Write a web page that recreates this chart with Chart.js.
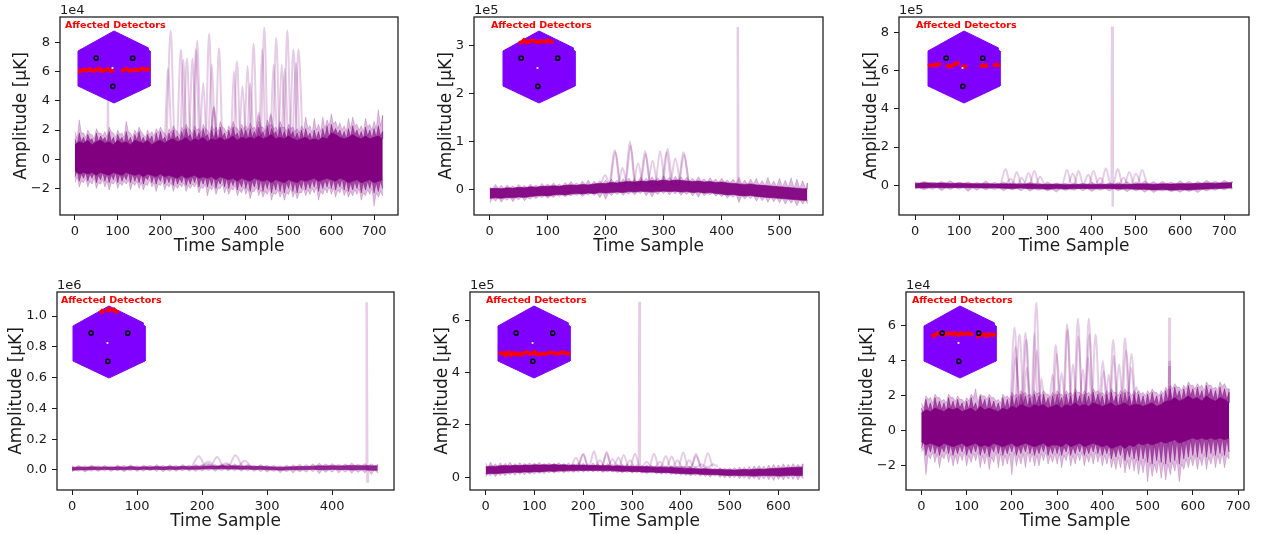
<!DOCTYPE html>
<html><head><meta charset="utf-8">
<style>html,body{margin:0;padding:0;background:#fff;width:1263px;height:534px;overflow:hidden}canvas{position:absolute;display:block}</style>
<script src="https://cdn.jsdelivr.net/npm/chart.js@4"></script></head><body>
<script>
// ---- Panel 1 (1e4) : envelopes read every 10 samples
const p1OutUp=[1.9,2.7,1.8,2.0,1.7,2.1,1.8,1.9,2.2,1.8,2.0,1.8,2.6,1.8,2.0,2.2,1.7,2.0,1.9,2.1,2.2,1.8,2.1,2.3,1.9,2.2,2.4,2.0,2.3,2.1,2.4,2.0,2.3,2.2,2.6,2.1,2.3,2.6,2.1,2.4,2.3,2.5,2.2,2.6,2.2,2.7,2.4,2.2,2.6,2.2,2.4,2.2,2.1,2.3,2.9,2.3,2.8,2.4,2.9,2.7,3.1,2.6,2.5,2.3,2.8,2.9,2.4,2.3,2.8,2.4,2.6,3.4,3.0];
const p1MidUp=[1.4,1.8,1.5,1.7,1.4,1.8,1.6,1.5,1.9,1.5,1.7,1.5,1.9,1.5,1.7,1.9,1.5,1.7,1.6,1.8,1.9,1.5,1.8,2.0,1.6,1.9,2.1,1.7,2.0,1.8,2.1,1.7,2.0,1.9,2.2,1.8,2.0,2.2,1.8,2.1,2.0,2.1,1.9,2.2,1.9,2.3,2.1,1.9,2.2,1.9,2.1,1.9,1.8,2.0,2.1,1.8,2.0,1.9,2.1,2.3,2.4,2.1,2.0,1.9,2.1,2.3,2.0,1.9,2.2,2.0,2.1,2.3,1.9];
const p1CoreUp=[1.0,1.2,1.1,1.3,1.0,1.2,1.3,1.1,1.2,1.0,1.3,1.1,1.2,1.0,1.3,1.2,1.1,1.3,1.0,1.2,1.3,1.1,1.3,1.4,1.2,1.3,1.5,1.2,1.4,1.3,1.5,1.2,1.4,1.3,1.5,1.3,1.4,1.6,1.3,1.5,1.4,1.5,1.4,1.6,1.4,1.5,1.7,1.4,1.5,1.4,1.6,1.4,1.3,1.4,1.5,1.3,1.4,1.3,1.5,1.4,1.8,1.7,1.5,1.4,1.5,1.7,1.5,1.4,1.6,1.4,1.5,1.6,1.4];
const p1CoreLo=[-0.8,-1.0,-0.9,-1.0,-0.9,-1.1,-0.9,-1.0,-1.1,-0.9,-1.0,-1.1,-0.9,-1.0,-1.1,-1.0,-1.2,-1.0,-1.1,-1.2,-1.0,-1.2,-1.1,-1.2,-1.3,-1.1,-1.3,-1.2,-1.1,-1.3,-1.2,-1.3,-1.2,-1.4,-1.2,-1.3,-1.4,-1.3,-1.5,-1.3,-1.4,-1.5,-1.3,-1.4,-1.5,-1.4,-1.6,-1.4,-1.5,-1.6,-1.4,-1.5,-1.6,-1.4,-1.5,-1.4,-1.3,-1.5,-1.4,-1.3,-1.4,-1.5,-1.3,-1.4,-1.6,-1.5,-1.4,-1.6,-1.5,-1.4,-1.6,-1.5,-1.4];
const p1MidLo=[-1.2,-1.5,-1.3,-1.5,-1.3,-1.6,-1.4,-1.5,-1.6,-1.4,-1.6,-1.5,-1.4,-1.6,-1.5,-1.6,-1.7,-1.4,-1.6,-1.7,-1.5,-1.7,-1.6,-1.8,-1.7,-1.6,-1.8,-1.7,-1.6,-1.9,-1.7,-1.9,-1.8,-2.0,-1.7,-1.9,-2.0,-1.8,-2.1,-1.9,-2.0,-2.2,-1.9,-2.1,-2.2,-2.0,-2.3,-2.1,-2.2,-2.3,-2.0,-2.2,-2.3,-2.0,-2.1,-2.0,-1.9,-2.2,-2.0,-1.9,-2.0,-2.1,-1.9,-2.1,-2.2,-2.1,-2.0,-2.3,-2.1,-2.0,-2.3,-2.2,-2.0];
const p1OutLo=[-1.6,-1.9,-1.6,-1.9,-1.7,-2.0,-1.7,-1.9,-2.1,-1.7,-2.0,-1.8,-1.7,-2.1,-1.8,-2.0,-2.1,-1.8,-1.9,-2.2,-1.8,-2.1,-1.9,-2.2,-2.0,-1.9,-2.2,-2.0,-1.9,-2.3,-2.0,-2.5,-2.1,-2.4,-2.0,-2.3,-2.4,-2.1,-2.5,-2.3,-2.4,-2.7,-2.2,-2.5,-2.6,-2.4,-2.8,-2.4,-2.6,-2.8,-2.4,-2.6,-2.7,-2.3,-2.5,-2.4,-2.3,-2.8,-2.4,-2.3,-2.4,-2.6,-2.3,-2.5,-2.6,-2.5,-2.4,-2.8,-2.5,-2.4,-3.2,-2.6,-2.5];
const p1TraceA=[[214,1],[224,8.8],[234,1],[253,1],[262,6.9],[271,1],[277,1],[286,8.1],[295,1],[305,1],[314,8.6],[323,1],[328,1],[337,7.6],[346,1],[383,1],[392,5.0],[401,1],[409,1],[418,7.9],[427,1],[434,1],[443,9.0],[452,1],[462,1],[471,8.3],[480,1],[488,1],[497,8.8],[506,1],[514,1],[523,7.5],[533,1]];
const p1TraceB=[[239,1],[248,7.5],[257,1],[266,1],[275,6.9],[284,1],[291,1],[300,5.2],[309,1],[316,1],[325,3.5],[334,1],[370,1],[379,6.7],[388,1],[395,1],[404,6.4],[413,1],[421,1],[430,3.0],[439,1],[449,1],[458,3.0],[467,1],[475,1],[484,6.5],[493,1],[502,1],[511,7.5],[520,1]];
const p1TraceC=[[210,1],[218,6.2],[227,1],[245,1],[254,6.8],[262,1],[274,1],[283,7.5],[292,1],[311,1],[320,6.5],[329,1],[364,1],[372,6],[381,1],[402,1],[410,5.2],[419,1],[430,1],[438,7.5],[447,1],[456,1],[465,6.5],[474,1],[482,1],[491,6.2],[500,1],[508,1],[517,6.6],[526,1]];
const p1TraceD=[[316,1],[325,3.6],[334,1],[422,1],[430,3.2],[439,1],[450,1],[458,3.1],[467,1]];
const p1Spikes=[[[76,1],[77,4.4],[78,1]]];
const p1XTicks=[0,100,200,300,400,500,600,700];
const p1YTicks=[-2,0,2,4,6,8];

// ---- Panel 2 (1e5)
const p2OutUp=[0.06,0.11,0.09,0.10,0.08,0.11,0.09,0.12,0.10,0.13,0.12,0.14,0.12,0.15,0.17,0.14,0.18,0.20,0.18,0.19,0.20,0.22,0.20,0.23,0.24,0.22,0.26,0.24,0.27,0.25,0.29,0.26,0.28,0.27,0.26,0.24,0.27,0.23,0.25,0.22,0.24,0.20,0.22,0.26,0.20,0.22,0.24,0.19,0.26,0.18,0.24,0.20,0.25,0.22,0.19,0.14];
const p2CoreUp=[0.02,0.03,0.02,0.04,0.03,0.05,0.04,0.06,0.05,0.07,0.07,0.08,0.07,0.09,0.10,0.09,0.11,0.10,0.12,0.13,0.13,0.15,0.14,0.16,0.17,0.16,0.18,0.17,0.19,0.18,0.20,0.18,0.20,0.19,0.18,0.17,0.18,0.16,0.17,0.15,0.16,0.14,0.13,0.12,0.11,0.12,0.10,0.09,0.08,0.07,0.06,0.05,0.04,0.03,0.02,0.02];
const p2CoreLo=[-0.18,-0.17,-0.18,-0.16,-0.17,-0.15,-0.16,-0.14,-0.13,-0.12,-0.13,-0.11,-0.10,-0.11,-0.09,-0.08,-0.09,-0.07,-0.08,-0.06,-0.07,-0.06,-0.05,-0.06,-0.04,-0.05,-0.03,-0.04,-0.05,-0.04,-0.03,-0.04,-0.03,-0.05,-0.04,-0.06,-0.05,-0.07,-0.06,-0.08,-0.09,-0.11,-0.10,-0.12,-0.13,-0.12,-0.14,-0.15,-0.16,-0.17,-0.18,-0.19,-0.20,-0.21,-0.22,-0.22];
const p2OutLo=[-0.28,-0.24,-0.26,-0.22,-0.25,-0.21,-0.23,-0.20,-0.19,-0.17,-0.18,-0.16,-0.14,-0.15,-0.13,-0.12,-0.14,-0.11,-0.12,-0.17,-0.20,-0.12,-0.10,-0.12,-0.09,-0.11,-0.08,-0.13,-0.15,-0.10,-0.08,-0.11,-0.09,-0.12,-0.10,-0.13,-0.16,-0.13,-0.11,-0.14,-0.15,-0.18,-0.16,-0.27,-0.20,-0.19,-0.24,-0.23,-0.26,-0.25,-0.27,-0.30,-0.28,-0.34,-0.30,-0.29];
const p2TraceA=[[207,0.1],[216,0.82],[225,0.1],[233,0.1],[242,1.0],[251,0.1],[259,0.1],[268,0.8],[277,0.1],[285,0.1],[294,0.8],[303,0.1],[311,0.1],[320,0.65],[329,0.1]];
const p2TraceB=[[191,0.1],[199,0.3],[208,0.1],[221,0.1],[229,0.45],[238,0.1],[247,0.1],[256,0.55],[265,0.1],[272,0.1],[281,0.6],[290,0.1],[298,0.1],[307,0.85],[316,0.1],[325,0.1],[334,0.78],[344,0.1]];
const p2TraceC=[[208,0.1],[217,0.78],[226,0.1],[234,0.1],[243,0.92],[252,0.1],[260,0.1],[269,0.74],[278,0.1],[296,0.1],[305,0.78],[314,0.1],[326,0.1],[335,0.72],[344,0.1]];
const p2TraceD=[];
const p2Spikes=[[[427,0.1],[428,3.38],[429,0.1]]];
const p2XTicks=[0,100,200,300,400,500];
const p2YTicks=[0,1,2,3];

// ---- Panel 3 (1e5)
const p3OutUp=[.18,.22,.17,.2,.24,.17,.19,.15,.23,.16,.18,.14,.13,.17,.12,.18,.13,.11,.14,.12,.16,.14,.13,.15,.19,.18,.24,.20,.22,.18,.24,.22,.20,.26,.22,.27,.20];
const p3CoreUp=[.10,.13,.11,.12,.10,.11,.09,.08,.09,.07,.08,.07,.06,.08,.05,.04,.05,.03,.04,.05,.05,.04,.05,.06,.04,.07,.08,.06,.08,.07,.09,.08,.10,.12,.11,.13,.13];
const p3CoreLo=[-.12,-.14,-.11,-.13,-.12,-.11,-.13,-.12,-.14,-.13,-.15,-.16,-.14,-.18,-.17,-.20,-.17,-.19,-.17,-.16,-.18,-.17,-.16,-.19,-.18,-.20,-.21,-.24,-.22,-.25,-.23,-.24,-.21,-.19,-.17,-.15,-.12];
const p3OutLo=[-.2,-.24,-.21,-.28,-.22,-.2,-.32,-.25,-.24,-.22,-.28,-.25,-.28,-.3,-.26,-.3,-.35,-.27,-.26,-.28,-.32,-.26,-.3,-.28,-.33,-.3,-.36,-.38,-.3,-.34,-.36,-.32,-.38,-.3,-.26,-.24,-.2];
const p3TraceA=[[194,0.05],[205,0.85],[216,0.05],[220,0.05],[230,0.7],[241,0.05],[246,0.05],[257,0.65],[268,0.05],[273,0.05],[283,0.45],[294,0.05],[333,0.05],[344,0.8],[355,0.05],[360,0.05],[370,0.75],[381,0.05],[393,0.05],[404,0.75],[415,0.05],[421,0.05],[432,0.9],[443,0.05],[448,0.05],[459,0.85],[470,0.05],[474,0.05],[485,0.7],[496,0.05],[503,0.05],[514,0.8],[525,0.05]];
const p3TraceB=[[206,0.05],[216,0.35],[227,0.05],[233,0.05],[241,0.4],[252,0.05],[259,0.05],[270,0.75],[281,0.05],[346,0.05],[357,0.6],[368,0.05],[381,0.05],[392,0.55],[403,0.05],[408,0.05],[419,0.4],[430,0.05],[461,0.05],[472,0.4],[483,0.05],[489,0.05],[500,0.6],[511,0.05]];
const p3TraceC=[];
const p3TraceD=[];
const p3Spikes=[[[445,0.05],[446,8.3],[447,-1.12],[448,0.05]]];
const p3XTicks=[0,100,200,300,400,500,600,700];
const p3YTicks=[0,2,4,6,8];

// ---- Panel 4 (1e6)
const p4OutUp=[.028,.03,.027,.033,.028,.031,.026,.033,.03,.034,.028,.032,.03,.035,.03,.034,.031,.036,.032,.037,.035,.04,.036,.04,.037,.04,.034,.037,.03,.035,.03,.031,.028,.032,.034,.038,.036,.04,.045,.04,.042,.038,.04,.045,.038,.042,.04,.036];
const p4CoreUp=[.016,.02,.017,.021,.018,.02,.017,.021,.018,.022,.018,.021,.019,.022,.019,.023,.02,.024,.021,.025,.023,.026,.024,.028,.025,.027,.024,.026,.022,.024,.021,.02,.018,.02,.021,.023,.022,.025,.027,.026,.028,.026,.027,.029,.027,.028,.027,.026];
const p4CoreLo=[-.002,.002,0,.003,.001,.004,.002,.003,.001,.004,.002,.005,.003,.004,.002,.005,.003,.006,.004,.005,.006,.008,.006,.008,.006,.007,.005,.006,.003,.004,.001,.002,-.001,.001,.002,.001,.003,.004,.002,.001,.004,.002,.003,0,.002,.001,-.002,-.002];
const p4OutLo=[-.012,-.008,-.014,-.008,-.01,-.007,-.01,-.006,-.012,-.007,-.01,-.008,-.006,-.01,-.012,-.008,-.01,-.006,-.008,-.01,-.006,-.004,-.01,-.004,-.006,-.005,-.008,-.006,-.01,-.012,-.015,-.01,-.018,-.012,-.02,-.013,-.015,-.012,-.025,-.016,-.014,-.02,-.015,-.022,-.016,-.02,-.03,-.02];
const p4TraceA=[[184,0.02],[195,0.09],[206,0.02],[212,0.02],[223,0.085],[234,0.02],[240,0.02],[251,0.095],[262,0.02]];
const p4TraceB=[[199,0.02],[210,0.055],[221,0.02],[226,0.02],[237,0.045],[248,0.02],[254,0.02],[265,0.06],[276,0.02]];
const p4TraceC=[[200,0.02],[209,0.04],[220,0.02],[228,0.02],[238,0.035],[248,0.02]];
const p4TraceD=[];
const p4Spikes=[[[452,0.02],[453,1.09],[454,-0.075],[455,0.02]]];
const p4XTicks=[0,100,200,300,400];
const p4YTicks=[0,0.2,0.4,0.6,0.8,1.0];

// ---- Panel 5 (1e5)
const p5OutUp=[.55,.58,.52,.56,.54,.58,.53,.57,.54,.56,.55,.58,.53,.56,.54,.57,.53,.55,.52,.55,.54,.52,.55,.52,.50,.53,.50,.51,.49,.50,.48,.49,.46,.48,.46,.44,.46,.43,.45,.42,.43,.40,.42,.39,.38,.40,.37,.36,.38,.35,.36,.38,.40,.39,.42,.44,.45,.43,.47,.50,.48,.52,.50,.53,.50,.52];
const p5CoreUp=[.40,.43,.42,.44,.45,.44,.46,.45,.47,.46,.48,.47,.48,.47,.49,.47,.48,.46,.47,.46,.47,.45,.46,.45,.44,.45,.43,.44,.43,.42,.42,.41,.40,.41,.39,.38,.39,.37,.38,.36,.36,.34,.35,.33,.32,.33,.31,.30,.31,.29,.29,.28,.29,.30,.29,.31,.32,.31,.33,.34,.35,.36,.37,.38,.39,.39];
const p5CoreLo=[.13,.15,.14,.16,.17,.18,.20,.19,.21,.20,.22,.21,.23,.24,.23,.25,.24,.26,.25,.27,.26,.27,.26,.27,.25,.26,.25,.24,.23,.24,.22,.23,.21,.20,.21,.19,.18,.19,.17,.16,.15,.14,.13,.14,.12,.11,.10,.11,.09,.08,.07,.08,.06,.07,.06,.05,.06,.07,.06,.07,.05,.06,.07,.08,.06,.08];
const p5OutLo=[.02,.06,.03,.07,.06,.10,.08,.11,.10,.12,.13,.15,.14,.17,.16,.19,.17,.20,.19,.20,.20,.22,.21,.22,.19,.21,.20,.18,.17,.19,.16,.18,.15,.14,.16,.13,.12,.13,.11,.10,.08,.07,.05,.07,.04,.03,.01,.04,.00,-.02,-.03,-.01,-.05,-.03,-.08,-.05,-.10,-.06,-.09,-.12,-.08,-.10,-.06,-.08,-.10,-.05];
const p5TraceA=[[175,0.4],[185,0.75],[196,0.4],[212,0.4],[222,1.0],[232,0.4],[238,0.4],[248,0.98],[258,0.4],[262,0.4],[272,0.75],[282,0.4],[296,0.4],[306,0.9],[316,0.4],[335,0.4],[345,0.9],[355,0.4],[359,0.4],[369,0.82],[379,0.4],[395,0.4],[405,0.95],[415,0.4],[421,0.4],[431,0.9],[441,0.4],[445,0.4],[455,0.92],[465,0.4]];
const p5TraceB=[[190,0.4],[200,0.9],[210,0.4],[224,0.4],[234,0.65],[244,0.4],[250,0.4],[260,0.7],[270,0.4],[273,0.4],[283,0.85],[293,0.4],[320,0.4],[330,0.6],[340,0.4],[347,0.4],[357,0.6],[367,0.4],[371,0.4],[381,0.8],[391,0.4],[407,0.4],[417,0.65],[427,0.4],[432,0.4],[442,0.5],[452,0.4],[456,0.4],[466,0.5],[476,0.4]];
const p5TraceC=[[190,0.4],[200,0.86],[210,0.4],[238,0.4],[248,0.9],[258,0.4],[286,0.4],[296,0.65],[306,0.4],[383,0.4],[393,0.65],[403,0.4],[421,0.4],[431,0.82],[441,0.4]];
const p5TraceD=[];
const p5Spikes=[[[314,0.4],[315,6.7],[316,0.4]]];
const p5XTicks=[0,100,200,300,400,500,600];
const p5YTicks=[0,2,4,6];

// ---- Panel 6 (1e4)
const p6OutUp=[1.6,2.0,1.9,2.1,1.9,1.8,2.1,1.9,2.0,1.8,1.9,2.1,2.4,2.1,2.0,2.1,1.9,1.8,2.1,2.0,2.2,2.1,2.3,2.2,2.1,2.3,2.2,2.3,2.1,2.2,2.3,2.1,2.3,2.2,2.4,2.2,2.3,2.2,2.4,2.3,2.2,2.3,2.4,2.2,2.3,2.4,2.2,2.3,2.3,2.2,2.3,2.4,2.2,2.3,2.5,2.6,2.7,2.5,2.6,2.8,2.6,2.7,2.6,2.8,2.6,2.5,2.8,2.7,2.4];
const p6MidUp=[1.3,1.8,1.6,1.9,1.7,1.6,1.9,1.7,1.8,1.6,1.7,1.9,1.6,2.0,1.8,1.9,1.7,1.6,1.9,1.8,2.0,1.9,2.1,2.0,1.9,2.1,2.0,2.1,1.9,2.0,2.1,1.9,2.1,2.0,2.2,2.0,2.1,2.0,2.2,2.1,2.0,2.1,2.2,2.0,2.1,2.2,2.0,2.1,2.1,2.0,2.1,2.2,2.0,2.1,2.3,2.4,2.5,2.3,2.4,2.6,2.4,2.5,2.3,2.6,2.4,2.3,2.5,2.4,2.2];
const p6CoreUp=[1.0,1.2,1.1,1.3,1.2,1.1,1.3,1.2,1.3,1.1,1.2,1.3,1.1,1.4,1.2,1.3,1.2,1.1,1.3,1.2,1.4,1.3,1.5,1.4,1.3,1.5,1.4,1.5,1.3,1.4,1.5,1.3,1.5,1.4,1.6,1.4,1.5,1.4,1.6,1.5,1.4,1.5,1.6,1.4,1.5,1.6,1.4,1.5,1.5,1.4,1.5,1.6,1.4,1.5,1.7,1.7,1.9,1.7,1.8,2.0,1.8,1.9,1.7,2.0,1.8,1.7,1.9,1.8,1.6];
const p6CoreLo=[-0.6,-0.8,-0.7,-0.8,-0.9,-0.7,-0.8,-0.9,-0.8,-0.7,-0.9,-0.8,-0.7,-0.9,-0.8,-0.9,-0.7,-0.8,-0.9,-0.8,-0.7,-0.9,-0.8,-0.7,-0.8,-0.9,-0.8,-0.7,-0.9,-0.8,-0.8,-0.9,-0.7,-0.9,-0.8,-0.7,-0.9,-0.8,-0.7,-0.8,-0.9,-0.8,-1.0,-0.9,-0.8,-1.0,-0.8,-0.9,-0.7,-0.8,-0.7,-0.8,-0.7,-0.6,-0.7,-0.6,-0.5,-0.7,-0.6,-0.5,-0.4,-0.5,-0.4,-0.5,-0.4,-0.5,-0.4,-0.5,-0.4];
const p6MidLo=[-1.0,-1.4,-1.2,-1.3,-1.4,-1.2,-1.3,-1.4,-1.3,-1.2,-1.4,-1.3,-1.2,-1.4,-1.3,-1.5,-1.2,-1.3,-1.4,-1.3,-1.2,-1.4,-1.3,-1.2,-1.3,-1.4,-1.3,-1.2,-1.4,-1.3,-1.3,-1.4,-1.2,-1.4,-1.3,-1.2,-1.4,-1.3,-1.2,-1.3,-1.4,-1.3,-1.6,-1.5,-1.4,-1.7,-1.5,-1.6,-1.7,-1.6,-1.8,-1.9,-1.7,-1.8,-1.9,-1.8,-1.7,-1.9,-1.6,-1.5,-1.4,-1.5,-1.3,-1.5,-1.3,-1.4,-1.3,-1.4,-1.2];
const p6OutLo=[-1.2,-2.5,-1.6,-1.8,-2.1,-1.6,-1.8,-2.0,-1.9,-1.7,-2.0,-1.8,-1.7,-2.1,-1.9,-2.2,-1.8,-2.1,-2.0,-1.9,-2.5,-2.0,-1.9,-2.1,-1.8,-2.0,-2.0,-1.7,-1.9,-1.8,-1.9,-2.1,-1.7,-2.0,-1.9,-1.7,-2.0,-1.8,-1.9,-1.8,-2.0,-1.9,-2.1,-2.2,-2.1,-2.4,-2.2,-2.3,-2.5,-2.4,-2.9,-2.6,-2.4,-2.7,-2.8,-2.5,-2.3,-2.9,-2.2,-2.1,-2.0,-2.2,-2.0,-2.2,-1.9,-2.1,-1.9,-2.1,-1.6];
const p6TraceA=[[196,1],[206,5.9],[216,1],[220,1],[230,5.6],[240,1],[244,1],[254,7.3],[264,1],[287,1],[297,4.9],[307,1],[312,1],[322,6.1],[332,1],[336,1],[346,6.4],[356,1],[360,1],[370,6.4],[380,1],[391,1],[401,4],[411,1],[414,1],[424,5.2],[434,1],[440,1],[450,5.3],[460,1],[465,1],[475,2.5],[485,1]];
const p6TraceB=[[207,1],[217,5.5],[227,1],[242,1],[250,5.6],[258,1],[260,1],[265,3],[275,1],[300,1],[310,3.3],[320,1],[325,1],[335,3.8],[345,1],[347,1],[357,3.5],[367,1],[375,1],[385,5.5],[395,1],[427,1],[437,3.8],[447,1],[454,1],[464,4.4],[474,1]];
const p6TraceC=[[198,1],[208,4.8],[218,1],[222,1],[232,5.2],[242,1],[245,1],[255,4.6],[265,1],[290,1],[299,4.4],[309,1],[314,1],[323,5.8],[333,1],[338,1],[347,5.4],[357,1],[362,1],[371,5.5],[381,1],[393,1],[403,3.4],[413,1],[416,1],[425,4.3],[435,1],[442,1],[452,4.6],[462,1]];
const p6TraceD=[[200,1],[209,4.2],[219,1],[224,1],[233,3.6],[243,1],[280,1],[290,3.2],[300,1],[360,1],[368,4.2],[378,1],[405,1],[414,3.2],[424,1],[455,1],[463,3.6],[473,1]];
const p6Spikes=[[[547,1.5],[548,6.45],[549,1.5]],[[547,1.5],[548,4.0],[549,1.5]],[[547,1.5],[548,3.7],[549,1.5]]];
const p6XTicks=[0,100,200,300,400,500,600,700];
const p6YTicks=[-2,0,2,4,6];

// ---- Inset: focal-plane hexagon, heated detectors, three marker rings
const hexOutline=[[36,0],[70,16.7],[70,19],[72,20],[72,55],[36,72],[0,55],[0,20],[36,0]];
const ringDetectors=[[18.2,27],[54.7,27.2],[34.8,55.3]];
const centreHole=[[34.5,37]];
const p1Hit=[[0,40],[3,40],[6,38.5],[9,39.5],[12,38],[15,40],[18,39],[21,37.5],[24,40],[27,39],[30,38],[33,40],[36,39.5],null,[43,40],[46,39],[49,38],[52,40],[55,39],[58,38.5],[61,39.5],[64,37.5],[67,38.5],[70,38],[72,39]];
const p2Hit=[[16,12],[19,11],[21,9],[24,11.5],[27,10],[30,9.5],[33,11],[36,11],[39,10],[42,11],[45,9.5],[48,10.5],[50,12]];
const p3Hit=[[0,35],[4,34],[7,34.5],[10,33],[13,34],null,[18,34],[21,35.5],[24,35],[27,33],[29,32],[31,33.5],null,[34,34],[36,36],[39,35],null,[52,36],[55,34],[58,35],[60,34],null,[65,35],[68,33.5],[72,34.5]];
const p4Hit=[[27,7],[29,5],[31,7],null,[33,5],[36,3],[37,6],null,[39,5],[41,3.5],[43,5.5],[46,6]];
const p5Hit=[[1,46],[4,48],[7,47],[8,49],[11,46.5],[13,49],[15,47],[18,48.5],[20,47],[23,49],[26,47],[29,46],[32,48],[35,47],[37,46],[39,48.5],[42,48],[44,47.5],[47,48],[50,47],[53,46.5],[56,47],[59,48],[62,47],[65,46],[68,47.5],[72,47.5]];
const p6Hit=[[8,28],[10,30],[12,28],[15,27],[18,28],[20,29],[23,27.5],[26,27],[29,28.5],[31,27],[34,29],[37,27],[40,28.5],[43,27],[46,28],[49,28],null,[54,28],[54,30],[57,29],[60,28],[63,30],[66,28],[69,29],[72,28]];

// ---- Text
const xLabel='Time Sample', yLabel='Amplitude [μK]', insetLabel='Affected Detectors';

// ---- Panel table: axes and layout, plus references to the arrays above
const panels=[
 {box:[60,17,398,215],yOff:39,x:[-35.1,756],y:[-3.81,9.73],xt:p1XTicks,yt:p1YTicks,dp:0,exp:'1e4',step:10,end:720,band:[p1OutUp,p1OutLo,p1MidUp,p1MidLo,p1CoreUp,p1CoreLo],traces:[p1TraceA,p1TraceB,p1TraceC,p1TraceD],spikes:p1Spikes,hit:p1Hit,hex:[78,31],tx:65},
 {box:[474,17,823,215],yOff:28,x:[-27.1,575],y:[-0.526,3.59],xt:p2XTicks,yt:p2YTicks,dp:0,exp:'1e5',step:10,end:548,band:[p2OutUp,p2OutLo,null,null,p2CoreUp,p2CoreLo],traces:[p2TraceA,p2TraceB,p2TraceC,p2TraceD],spikes:p2Spikes,hit:p2Hit,hex:[503,31],tx:491},
 {box:[899,17,1249,215],yOff:28,x:[-36.3,756],y:[-1.55,8.8],xt:p3XTicks,yt:p3YTicks,dp:0,exp:'1e5',step:20,end:718,band:[p3OutUp,p3OutLo,null,null,p3CoreUp,p3CoreLo],traces:[p3TraceA,p3TraceB,p3TraceC,p3TraceD],spikes:p3Spikes,hit:p3Hit,hex:[928,31],tx:916},
 {box:[57,292,394,490],yOff:41,x:[-23.1,495],y:[-0.13,1.156],xt:p4XTicks,yt:p4YTicks,dp:1,exp:'1e6',step:10,end:470,band:[p4OutUp,p4OutLo,null,null,p4CoreUp,p4CoreLo],traces:[p4TraceA,p4TraceB,p4TraceC,p4TraceD],spikes:p4Spikes,hit:p4Hit,hex:[73,306],tx:61,soft:true},
 {box:[470,292,819,490],yOff:28,x:[-32,683],y:[-0.48,7.07],xt:p5XTicks,yt:p5YTicks,dp:0,exp:'1e5',step:10,end:650,band:[p5OutUp,p5OutLo,null,null,p5CoreUp,p5CoreLo],traces:[p5TraceA,p5TraceB,p5TraceC,p5TraceD],spikes:p5Spikes,hit:p5Hit,hex:[498,306],tx:486},
 {box:[906,292,1244,490],yOff:39,x:[-34,713],y:[-3.37,7.92],xt:p6XTicks,yt:p6YTicks,dp:0,exp:'1e4',step:10,end:680,band:[p6OutUp,p6OutLo,p6MidUp,p6MidLo,p6CoreUp,p6CoreLo],traces:[p6TraceA,p6TraceB,p6TraceC,p6TraceD],spikes:p6Spikes,hit:p6Hit,hex:[924,306],tx:912}
];

const PURPLE='128,0,128', FONT='"DejaVu Sans"', INK='#1a1a1a';
const pts=a=>a.map(p=>p?{x:p[0],y:p[1]}:{x:NaN,y:null});
const series=(v,st,end)=>v.map((y,i)=>({x:Math.min(i*st,end),y}));
// noise edge: every read envelope value is a tooth that falls back to the next inner envelope
const teeth=(top,base,st,end)=>top.flatMap((y,i)=>[{x:Math.min(i*st,end),y},{x:Math.min(i*st+st/2,end),y:base[i]}]);
function mkCanvas(l,t,w,h){const c=document.createElement('canvas');c.width=w;c.height=h;c.style.left=l+'px';c.style.top=t+'px';c.style.width=w+'px';c.style.height=h+'px';document.body.appendChild(c);return c;}

const TOP=17,BOT=42,RIGHT=20;
panels.forEach(P=>{
  const [L,T,R,B]=P.box, w=P.yOff+10+(R-L)+RIGHT, h=TOP+(B-T)+BOT;
  const cv=mkCanvas(L-P.yOff-10,T-TOP,w,h), ds=[];
  const [oU,oL,mU,mL,cU,cL]=P.band, hasMid=!!mU;
  const alpha=P.soft?{o:.25,m:.5,c:.8}:{o:.27,m:.62,c:hasMid?1:.93};
  const edge=(data,a,order,fill)=>({data,borderColor:`rgba(${PURPLE},${Math.min(a,.9)})`,borderWidth:.7,pointRadius:0,fill,backgroundColor:`rgba(${PURPLE},${a})`,order});
  const inU=hasMid?mU:cU, inL=hasMid?mL:cL;
  ds.push(edge(teeth(oU,inU,P.step,P.end),alpha.o,40,false));
  ds.push(edge(teeth(oL,inL,P.step,P.end),alpha.o,40,'-1'));
  if(hasMid){
    ds.push(edge(teeth(mU,cU,P.step,P.end),alpha.m,30,false));
    ds.push(edge(teeth(mL,cL,P.step,P.end),alpha.m,30,'-1'));
  }
  ds.push(edge(series(cU,P.step,P.end),alpha.c,10,false));
  ds.push(edge(series(cL,P.step,P.end),alpha.c,10,'-1'));
  P.traces.forEach(t=>{ if(t.length) ds.push({data:pts(t),borderColor:`rgba(${PURPLE},.2)`,borderWidth:2,pointRadius:0,fill:false,cubicInterpolationMode:'monotone',order:35}); });
  P.spikes.forEach(s=>ds.push({data:pts(s),borderColor:`rgba(${PURPLE},.2)`,borderWidth:2.4,pointRadius:0,fill:false,tension:0,order:36}));
  new Chart(cv,{type:'line',data:{datasets:ds},
    options:{responsive:false,animation:false,events:[],
      layout:{autoPadding:false,padding:{left:0,top:TOP,right:RIGHT,bottom:0}},
      plugins:{legend:{display:false},tooltip:{enabled:false}},
      scales:{
        x:{type:'linear',min:P.x[0],max:P.x[1],
           afterBuildTicks:s=>{s.ticks=P.xt.map(value=>({value}));},
           afterFit:s=>{s.height=BOT;},
           border:{display:false},
           grid:{drawOnChartArea:false,drawTicks:true,tickLength:5,tickColor:INK,tickWidth:1,color:'transparent'},
           ticks:{autoSkip:false,maxRotation:0,color:INK,padding:4,font:{family:FONT,size:13},callback:v=>String(v)},
           title:{display:true,text:xLabel,color:INK,padding:0,font:{family:FONT,size:17}}},
        y:{type:'linear',min:P.y[0],max:P.y[1],
           afterBuildTicks:s=>{s.ticks=P.yt.map(value=>({value}));},
           afterFit:s=>{s.width=P.yOff+10;},
           border:{display:false},
           grid:{drawOnChartArea:false,drawTicks:true,tickLength:5,tickColor:INK,tickWidth:1,color:'transparent'},
           ticks:{autoSkip:false,color:INK,padding:5,font:{family:FONT,size:13},
             callback:v=>(v<0?'\u2212':'')+Math.abs(v).toFixed(P.dp)},
           title:{display:true,text:yLabel,color:INK,padding:0,font:{family:FONT,size:17}}}
      }},
    plugins:[{id:'panelText',afterDraw(ch){
      const a=ch.chartArea,c=ch.ctx;
      c.save();c.strokeStyle='#222';c.lineWidth=1.3;c.strokeRect(a.left,a.top,a.right-a.left,a.bottom-a.top);
      c.fillStyle=INK;c.font='13px '+FONT;c.textAlign='left';c.textBaseline='alphabetic';
      c.fillText(P.exp,a.left,a.top-3);
      c.fillStyle='#ff0000';c.font='bold 9.5px '+FONT;c.textBaseline='middle';
      c.fillText(insetLabel,P.tx-L+a.left,a.top+8.5);
      c.restore();
    }}]
  });

  // inset chart drawn over the panel
  const ic=mkCanvas(P.hex[0]-4,P.hex[1]-4,80,80);
  ic.style.zIndex=5;
  new Chart(ic,{type:'scatter',data:{datasets:[
      {data:pts(ringDetectors),pointRadius:2.1,pointBorderWidth:1.5,pointBorderColor:'#000',pointBackgroundColor:'#7f00ff',showLine:false,order:1},
      {data:pts(centreHole),pointRadius:1.1,pointBorderWidth:0,pointBackgroundColor:'#fff',showLine:false,order:1},
      {data:pts(P.hit),showLine:true,borderColor:'#ff0000',borderWidth:3.8,pointRadius:0,spanGaps:false,order:2},
      {data:pts(hexOutline),showLine:true,fill:'shape',borderColor:'#7f00ff',borderWidth:1,backgroundColor:'#7f00ff',pointRadius:0,order:3}
    ]},
    options:{responsive:false,animation:false,events:[],layout:{autoPadding:false,padding:0},
      plugins:{legend:{display:false},tooltip:{enabled:false}},
      scales:{x:{type:'linear',min:-4,max:76,display:false},y:{type:'linear',min:-4,max:76,reverse:true,display:false}}}
  });
});
</script></body></html>
